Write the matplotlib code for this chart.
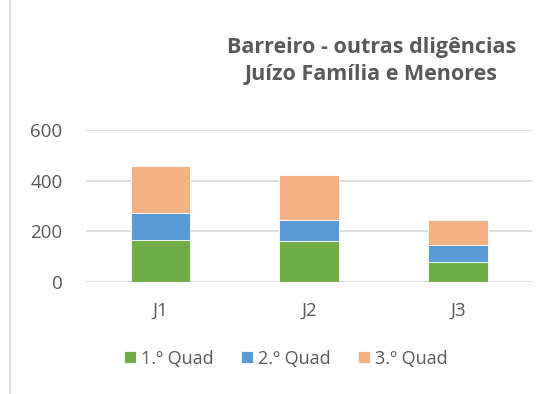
import matplotlib.pyplot as plt
from matplotlib.patches import Rectangle
import numpy as np

# Judges and quarterly counts
juizos = ["J1", "J2", "J3"]
quad1 = [165, 161, 79]
quad2 = [106, 85, 67]
quad3 = [187, 177, 99]
series_names = ["1.º Quad", "2.º Quad", "3.º Quad"]
colors = ["#70AD47", "#5B9BD5", "#F4B183"]
yticks = [0, 200, 400, 600]

plt.rcParams['font.family'] = ['Open Sans', 'DejaVu Sans']
text_color = "#595959"

fig = plt.figure(figsize=(5.5, 3.94), dpi=100)
ax = fig.add_axes([0.1564, 0.2843, 0.8116, 0.3857])

x = np.arange(len(juizos))
bottom = np.zeros(len(juizos))
for vals, name, col in zip([quad1, quad2, quad3], series_names, colors):
    ax.bar(x, vals, width=0.4, bottom=bottom, color=col, label=name,
           edgecolor="white", linewidth=0.6, zorder=3)
    bottom += np.array(vals)

ax.set_xlim(-0.5, len(juizos) - 0.5)
ax.set_ylim(0, 600)
ax.set_yticks(yticks)
ax.set_xticks(x)
ax.set_xticklabels(juizos)
ax.yaxis.grid(True, color="#D9D9D9", linewidth=1.2, zorder=0)
ax.tick_params(axis="both", length=0, labelsize=13.5, colors=text_color)
ax.tick_params(axis="x", pad=14)
ax.tick_params(axis="y", pad=17)
for s in ax.spines.values():
    s.set_visible(False)

fig.text(0.675, 0.845, "Barreiro - outras dligências\nJuízo Família e Menores",
         ha="center", va="center", fontsize=15.5, fontweight="bold",
         color=text_color, linespacing=1.4)

leg = fig.legend(loc="center", bbox_to_anchor=(0.52, 0.09), ncol=3, frameon=False,
                 fontsize=13, handlelength=0.65, handleheight=0.65, columnspacing=1.5,
                 handletextpad=0.3)
for t in leg.get_texts():
    t.set_color(text_color)

fig.patches.append(Rectangle((0.018, -0.01), 1.0, 1.02, transform=fig.transFigure,
                             fill=False, edgecolor="#D9D9D9", linewidth=1.2))

fig.savefig("out.png", dpi=100)
